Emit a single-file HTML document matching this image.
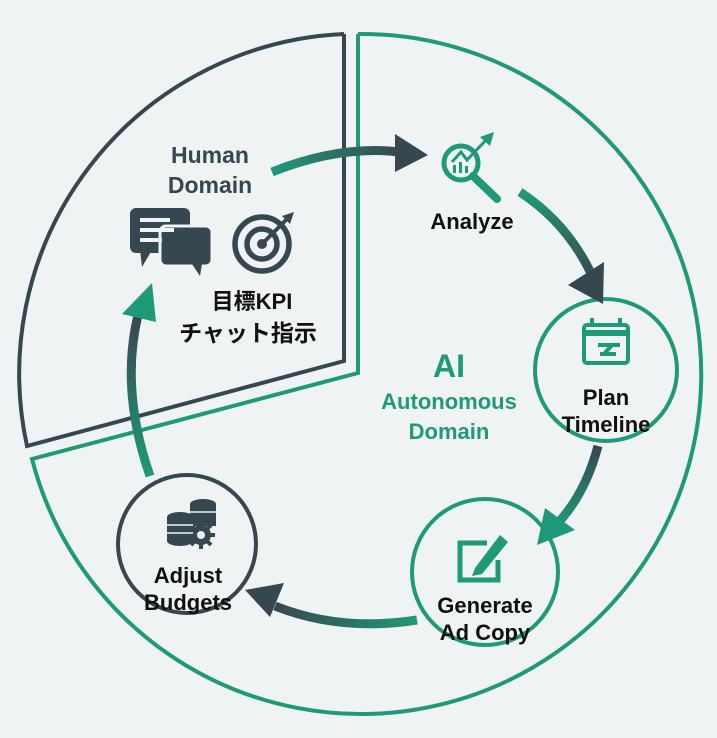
<!DOCTYPE html>
<html><head><meta charset="utf-8"><style>
html,body{margin:0;padding:0;background:#eff3f3;}
svg{display:block}
text{font-family:"Liberation Sans","Noto Sans CJK JP",sans-serif;font-weight:bold;text-anchor:middle}
</style></head><body>
<svg width="717" height="738" viewBox="0 0 717 738">
<defs>
<linearGradient id="g1" x1="0" y1="0" x2="1" y2="0"><stop offset="0" stop-color="#1f9a78"/><stop offset="1" stop-color="#37474f"/></linearGradient>
<linearGradient id="g2" x1="0" y1="0" x2="0" y2="1"><stop offset="0" stop-color="#1f9a78"/><stop offset="1" stop-color="#37474f"/></linearGradient>
<linearGradient id="g3" x1="0" y1="0" x2="0" y2="1"><stop offset="0" stop-color="#37474f"/><stop offset="1" stop-color="#1f9a78"/></linearGradient>
<linearGradient id="g4" x1="1" y1="0" x2="0" y2="0"><stop offset="0" stop-color="#1f9a78"/><stop offset="1" stop-color="#37474f"/></linearGradient>
</defs>
<path d="M344,34 L344,361 L27,446 A340,340 0 0 1 344,34" fill="none" stroke="#37474f" stroke-width="4"/>
<path d="M358,34 L358,373 L32,459 A340,340 0 1 0 358,34" fill="none" stroke="#1f9a78" stroke-width="4"/>
<circle cx="606" cy="370" r="71" fill="none" stroke="#1f9a78" stroke-width="4"/>
<circle cx="485" cy="572" r="73" fill="none" stroke="#1f9a78" stroke-width="4"/>
<circle cx="187" cy="544" r="69" fill="none" stroke="#37474f" stroke-width="4"/>
<path d="M272,172 Q340,145 400,152" fill="none" stroke="url(#g1)" stroke-width="9"/>
<polygon points="395,134 428,155 395,172" fill="#37474f"/>
<path d="M520,192 Q570,225 594,280" fill="none" stroke="url(#g2)" stroke-width="9"/>
<polygon points="568,285 604,262 603,304" fill="#37474f"/>
<path d="M598,446 Q585,495 556,525" fill="none" stroke="url(#g3)" stroke-width="9"/>
<polygon points="545,508 575,530 537,545" fill="#1f9a78"/>
<path d="M417,620 Q340,632 275,606" fill="none" stroke="url(#g4)" stroke-width="9"/>
<polygon points="284,583 245,590 270,617" fill="#37474f"/>
<path d="M150,476 Q120,390 138,315" fill="none" stroke="url(#g3)" stroke-width="9"/>
<polygon points="122,314 152,283 156,322" fill="#1f9a78"/>
<!-- chat icon -->
<g fill="#37474f">
<rect x="130" y="208" width="60" height="45" rx="6"/>
<polygon points="140,250 152,250 142,267"/>
<rect x="160" y="226" width="52" height="40" rx="6" stroke="#eff3f3" stroke-width="3"/>
<polygon points="192,264 202,264 200,276"/>
</g>
<g stroke="#eff3f3" stroke-width="4"><line x1="140" y1="220" x2="170" y2="220" /><line x1="140" y1="230" x2="174" y2="230"/><line x1="140" y1="240" x2="162" y2="240"/></g>
<g fill="none" stroke="#37474f" stroke-width="5.5"><circle cx="262" cy="244" r="27"/><circle cx="262" cy="244" r="15"/></g>
<circle cx="262" cy="244" r="5" fill="#37474f"/>
<line x1="262" y1="244" x2="288" y2="218" stroke="#37474f" stroke-width="4"/>
<polygon points="282,216 294,212 290,224" fill="#37474f"/>
<!-- analyze icon -->
<g fill="none" stroke="#1f9a78" stroke-width="5"><circle cx="461" cy="163" r="17"/><line x1="473" y1="176" x2="497" y2="199" stroke-width="8" stroke-linecap="round"/><polyline points="452,162 461,152 467,160 486,140" stroke-width="3"/></g>
<g fill="#1f9a78"><rect x="453" y="165" width="3" height="8"/><rect x="459" y="162" width="3" height="11"/><rect x="465" y="166" width="3" height="7"/></g>
<polygon points="480,137 494,132 490,146" fill="#1f9a78"/>
<!-- calendar -->
<g fill="none" stroke="#1f9a78" stroke-width="4"><rect x="584" y="325" width="44" height="38" rx="3"/><line x1="584" y1="333" x2="628" y2="333" stroke-width="6"/><path d="M598,345 L620,345 M600,354 L616,354 M612,345 L604,354"/></g>
<g stroke="#1f9a78" stroke-width="4"><line x1="592" y1="318" x2="592" y2="327"/><line x1="620" y1="318" x2="620" y2="327"/></g>
<!-- edit -->
<g fill="none" stroke="#1f9a78" stroke-width="5"><path d="M487,543 L460,543 L460,580 L498,580 L498,560"/></g>
<polygon points="475,568 500,535 508,542 482,574 472,576" fill="#1f9a78"/>
<!-- budgets -->
<g fill="#37474f">
<ellipse cx="203" cy="504" rx="13" ry="5"/><rect x="190" y="504" width="26" height="22"/>
<ellipse cx="180" cy="517" rx="13" ry="5"/><rect x="167" y="517" width="26" height="24"/><ellipse cx="180" cy="541" rx="13" ry="5"/>
<circle cx="201" cy="535" r="10"/>
</g>
<g stroke="#37474f" stroke-width="4"><line x1="201" y1="521" x2="201" y2="549"/><line x1="187" y1="535" x2="215" y2="535"/><line x1="191" y1="525" x2="211" y2="545"/><line x1="211" y1="525" x2="191" y2="545"/></g>
<circle cx="201" cy="535" r="4" fill="#eff3f3"/>
<g stroke="#eff3f3" stroke-width="1.5"><line x1="167" y1="525" x2="193" y2="525"/><line x1="167" y1="533" x2="193" y2="533"/><line x1="190" y1="512" x2="216" y2="512"/></g>
<!-- text -->
<text x="210" y="163" font-size="23" fill="#37474f">Human</text>
<text x="210" y="193" font-size="23" fill="#37474f">Domain</text>
<text x="472" y="229" font-size="22" fill="#111">Analyze</text>
<text x="252" y="309" font-size="22" fill="#111">目標KPI</text>
<text x="248" y="341" font-size="23" fill="#111">チャット指示</text>
<text x="449" y="377" font-size="32" fill="#1f9a78">AI</text>
<text x="449" y="409" font-size="22" fill="#1f9a78">Autonomous</text>
<text x="449" y="439" font-size="22" fill="#1f9a78">Domain</text>
<text x="606" y="405" font-size="22" fill="#111">Plan</text>
<text x="606" y="432" font-size="22" fill="#111">Timeline</text>
<text x="485" y="613" font-size="22" fill="#111">Generate</text>
<text x="485" y="640" font-size="22" fill="#111">Ad Copy</text>
<text x="188" y="583" font-size="22" fill="#111">Adjust</text>
<text x="188" y="610" font-size="22" fill="#111">Budgets</text>
</svg>
</body></html>
